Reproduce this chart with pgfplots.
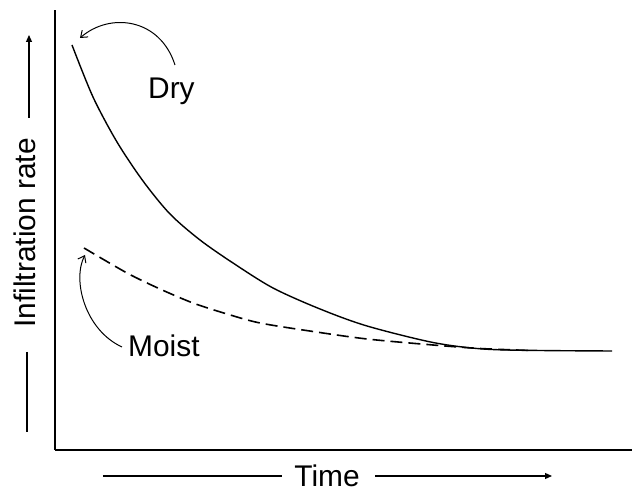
\documentclass[border=0pt]{standalone}
\usepackage{pgfplots}
\pgfplotsset{compat=1.18}
\usepackage{fontspec}
\setmainfont{Liberation Sans}
\usetikzlibrary{arrows.meta}
\begin{document}
\begin{tikzpicture}[x=1bp,y=1bp]
\begin{axis}[
  scale only axis,
  width=577bp, height=440bp,
  xmin=55, xmax=632, ymin=0, ymax=440,
  axis x line=bottom, axis y line=left,
  axis line style={-, line width=2.6bp},
  xtick=\empty, ytick=\empty,
  clip=false,
]
\addplot[smooth, black, line width=1.4bp] coordinates {
(72,405) (93,353) (117,308) (143,269) (170,236) (200,210) (233,187) (273,162) (320,141) (367,124) (433,107.5) (483,101) (540,99.5) (612,99)
};
\addplot[smooth, black, line width=1.6bp, dash pattern=on 12bp off 6bp] coordinates {
(84,202) (127,177) (160,161) (193,147) (227,136) (260,127) (313,118.5) (367,111) (433,105) (480,101.5) (530,99.5)
};
% annotations
\node[anchor=base west, font=\fontsize{30}{36}\selectfont, inner sep=0pt] at (axis cs:148,351) {Dry};
\node[anchor=base west, font=\fontsize{30}{36}\selectfont, inner sep=0pt] at (axis cs:128,93) {Moist};
\draw[line width=1bp, -{Straight Barb[length=6bp,width=9bp]}] (axis cs:175,385) .. controls (axis cs:160,432) and (axis cs:110,438) .. (axis cs:80,412);
\draw[line width=1bp, -{Straight Barb[length=6bp,width=9bp]}] (axis cs:122,103) .. controls (axis cs:85,120) and (axis cs:72,170) .. (axis cs:85,195);
% y label
\node[rotate=90, anchor=base, font=\fontsize{30}{36}\selectfont, inner sep=0pt] at (axis cs:36,217) {Infiltration rate};
\draw[line width=1.2bp, -{Triangle[length=7bp,width=6bp]}] (axis cs:29,332) -- (axis cs:29,415);
\draw[line width=1.2bp] (axis cs:27,98) -- (axis cs:27,18);
% x label
\node[anchor=base, font=\fontsize{30}{36}\selectfont, inner sep=0pt] at (axis cs:327,-37) {Time};
\draw[line width=1.2bp] (axis cs:103,-26) -- (axis cs:282,-26);
\draw[line width=1.2bp, -{Triangle[length=7bp,width=6bp]}] (axis cs:375,-26) -- (axis cs:552,-26);
% bounding box
\path (axis cs:0,450) rectangle (axis cs:636,-45);
\end{axis}
\end{tikzpicture}
\end{document}
